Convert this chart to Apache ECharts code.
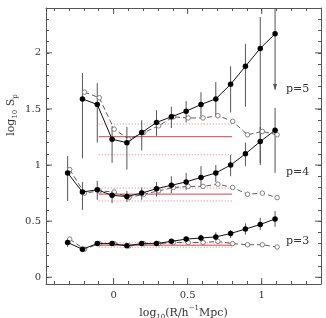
<!DOCTYPE html>
<html>
<head>
<meta charset="utf-8">
<script src="https://cdn.jsdelivr.net/npm/echarts@6/dist/echarts.min.js"></script>
<style>
  html, body { margin: 0; padding: 0; background: #fff; }
  #chart { width: 326px; height: 318px; }
</style>
</head>
<body>
<div id="chart"></div>
<script>
// log10(R / h^-1 Mpc)
const rVals = [-0.3, -0.2, -0.1, 0, 0.1, 0.2, 0.3, 0.4, 0.5, 0.6, 0.7, 0.8, 0.9, 1.0, 1.1]

// p = 5
const p5Filled = [null, 1.59, 1.54, 1.23, 1.20, 1.29, 1.38, 1.43, 1.48, 1.54, 1.59, 1.72, 1.88, 2.04, 2.17]
const p5Hi = [null, 1.82, 1.73, 1.35, 1.34, 1.40, 1.49, 1.52, 1.57, 1.65, 1.74, 1.88, 2.08, 2.32, 2.40]
const p5Lo = [null, 1.06, 1.20, 1.02, 0.96, 1.13, 1.26, 1.33, 1.38, 1.43, 1.44, 1.47, 1.52, 1.00, 1.67]
const p5Open = [null, 1.65, 1.60, 1.32, 1.23, 1.29, 1.35, 1.43, 1.42, 1.42, 1.44, 1.39, 1.27, 1.30, 1.27]

// p = 4
const p4Filled = [0.93, 0.76, 0.78, 0.73, 0.72, 0.75, 0.79, 0.82, 0.85, 0.89, 0.93, 1.00, 1.10, 1.21, 1.31]
const p4Hi = [1.08, 0.85, 0.86, 0.77, 0.77, 0.80, 0.85, 0.90, 0.93, 0.99, 1.00, 1.09, 1.20, 1.34, 1.51]
const p4Lo = [0.68, 0.60, 0.69, 0.66, 0.67, 0.69, 0.72, 0.75, 0.78, 0.81, 0.85, 0.90, 0.99, 1.02, 0.93]
const p4Open = [0.96, 0.75, 0.77, 0.76, 0.71, 0.74, 0.77, 0.80, 0.81, 0.81, 0.83, 0.80, 0.74, 0.75, 0.71]

// p = 3
const p3Filled = [0.31, 0.25, 0.30, 0.30, 0.28, 0.30, 0.30, 0.32, 0.34, 0.35, 0.36, 0.39, 0.43, 0.47, 0.52]
const p3Hi = [0.34, 0.27, 0.32, 0.31, 0.30, 0.31, 0.32, 0.34, 0.36, 0.38, 0.40, 0.42, 0.48, 0.53, 0.59]
const p3Lo = [0.27, 0.23, 0.28, 0.28, 0.27, 0.28, 0.29, 0.30, 0.31, 0.32, 0.33, 0.35, 0.38, 0.42, 0.45]
const p3Open = [0.34, 0.25, 0.30, 0.30, 0.28, 0.30, 0.30, 0.31, 0.31, 0.31, 0.32, 0.30, 0.29, 0.29, 0.27]

// errorbars ending in an arrow (lower limit unbounded)
const p5Arrow = [0, 0, 0, 0, 0, 0, 0, 0, 0, 0, 0, 0, 0, 0, 1]

// red reference bands (mean, upper, lower) over a fitted range
const bandRange = [-0.1, 0.8]
const bandMean = [1.253, 0.741, 0.286]
const bandHi = [1.366, 0.795, 0.307]
const bandLo = [1.092, 0.680, 0.268]

// axis ticks
const xMajor = [0, 0.5, 1]
const xAll = [-0.4, -0.3, -0.2, -0.1, 0, 0.1, 0.2, 0.3, 0.4, 0.5, 0.6, 0.7, 0.8, 0.9, 1, 1.1, 1.2, 1.3]
const yMajor = [0, 0.5, 1, 1.5, 2]
const yAll = [0, 0.1, 0.2, 0.3, 0.4, 0.5, 0.6, 0.7, 0.8, 0.9, 1, 1.1, 1.2, 1.3, 1.4, 1.5, 1.6, 1.7, 1.8, 1.9, 2, 2.1, 2.2, 2.3]

const labels = ['p=5', 'p=4', 'p=3']

const FONT = 'DejaVu Serif'
const frame = '#555'
const X_MIN = -0.456, X_MAX = 1.40, Y_MIN = -0.06, Y_MAX = 2.40

const chart = echarts.init(document.getElementById('chart'))

// 四边坐标轴：所有刻度用短刻度，主刻度另外用 custom 画长线
const makeAxis = (dir, pos, withLabel, extra) => Object.assign({
  type: 'value',
  position: pos,
  min: dir === 'x' ? X_MIN : Y_MIN,
  max: dir === 'x' ? X_MAX : Y_MAX,
  axisLine: { show: true, onZero: false, lineStyle: { color: frame, width: 1 } },
  axisTick: { show: true, inside: true, length: 3, customValues: dir === 'x' ? xAll : yAll, lineStyle: { color: frame, width: 1 } },
  axisLabel: withLabel
    ? { show: true, customValues: dir === 'x' ? xMajor : yMajor, fontFamily: FONT, fontSize: 10, color: '#333', margin: dir === 'x' ? 6 : 5 }
    : { show: false },
  splitLine: { show: false }
}, extra || {})

const xName = {
  name: '{t|log}{s|10}{t|(R/h}{u|−1}{t|Mpc)}',
  nameLocation: 'middle',
  nameGap: 18,
  nameTextStyle: {
    rich: {
      t: { fontFamily: FONT, fontSize: 11, color: '#333', lineHeight: 16 },
      s: { fontFamily: FONT, fontSize: 7, color: '#333', lineHeight: 8, verticalAlign: 'bottom' },
      u: { fontFamily: FONT, fontSize: 7, color: '#333', lineHeight: 8, verticalAlign: 'top' }
    }
  }
}

// long major ticks on all four sides
const majorTickSeries = (dir) => ({
  type: 'custom',
  clip: false,
  silent: true,
  z: 5,
  data: (dir === 'x' ? xMajor : yMajor).map(v => [v]),
  renderItem: (params, api) => {
    const v = api.value(0)
    const L = 6
    const st = { stroke: frame, lineWidth: 1 }
    if (dir === 'x') {
      const b = api.coord([v, Y_MIN]), t = api.coord([v, Y_MAX])
      return { type: 'group', children: [
        { type: 'line', shape: { x1: b[0], y1: b[1], x2: b[0], y2: b[1] - L }, style: st },
        { type: 'line', shape: { x1: t[0], y1: t[1], x2: t[0], y2: t[1] + L }, style: st }
      ] }
    }
    const l = api.coord([X_MIN, v]), r = api.coord([X_MAX, v])
    return { type: 'group', children: [
      { type: 'line', shape: { x1: l[0], y1: l[1], x2: l[0] + L, y2: l[1] }, style: st },
      { type: 'line', shape: { x1: r[0], y1: r[1], x2: r[0] - L, y2: r[1] }, style: st }
    ] }
  }
})

const errSeries = (lo, hi, arrow) => ({
  type: 'custom',
  clip: true,
  z: 2,
  data: rVals.map((r, i) => hi[i] == null ? null : [r - 0.01, lo[i], hi[i], arrow ? arrow[i] : 0]).filter(d => d),
  renderItem: (params, api) => {
    const x = api.value(0)
    const a = api.coord([x, api.value(1)])
    const b = api.coord([x, api.value(2)])
    const kids = [{
      type: 'line',
      shape: { x1: a[0], y1: a[1], x2: b[0], y2: b[1] },
      style: { stroke: '#555', lineWidth: 1 }
    }]
    if (api.value(3)) {
      kids.push({
        type: 'polygon',
        shape: { points: [[a[0] - 2, a[1] - 6], [a[0] + 2, a[1] - 6], [a[0], a[1]]] },
        style: { fill: '#555' }
      })
    }
    return { type: 'group', children: kids }
  }
})

const filledSeries = (vals) => ({
  type: 'line',
  z: 4,
  data: rVals.map((r, i) => [r - 0.01, vals[i]]).filter(d => d[1] != null),
  symbol: 'circle',
  symbolSize: 5.5,
  itemStyle: { color: '#000' },
  lineStyle: { color: '#111', width: 1 },
  animation: false
})

const openSeries = (vals) => ({
  type: 'line',
  z: 3,
  data: rVals.map((r, i) => [r + 0.004, vals[i]]).filter(d => d[1] != null),
  symbol: 'circle',
  symbolSize: 4.5,
  itemStyle: { color: '#fff', borderColor: '#666', borderWidth: 0.8 },
  lineStyle: { color: '#333', width: 0.8, type: [5, 3] },
  animation: false
})

const bandSeries = (v, dotted) => ({
  type: 'line',
  z: 1,
  data: [[bandRange[0], v], [bandRange[1], v]],
  symbol: 'none',
  lineStyle: dotted
    ? { color: '#e07a7a', width: 1, type: [1, 2] }
    : { color: '#d04545', width: 1 },
  animation: false
})

const series = []
bandMean.forEach((m, i) => {
  series.push(bandSeries(m, false), bandSeries(bandHi[i], true), bandSeries(bandLo[i], true))
})
series.push(
  errSeries(p5Lo, p5Hi, p5Arrow), errSeries(p4Lo, p4Hi), errSeries(p3Lo, p3Hi),
  openSeries(p5Open), openSeries(p4Open), openSeries(p3Open),
  filledSeries(p5Filled), filledSeries(p4Filled), filledSeries(p3Filled),
  majorTickSeries('x'), majorTickSeries('y')
)

const labelY = [89, 172, 241]

chart.setOption({
  backgroundColor: '#fff',
  animation: false,
  grid: { left: 46, right: 5, top: 8, bottom: 34, containLabel: false, outerBoundsMode: 'none' },
  xAxis: [
    makeAxis('x', 'bottom', true, xName),
    makeAxis('x', 'top', false)
  ],
  yAxis: [
    makeAxis('y', 'left', true),
    makeAxis('y', 'right', false)
  ],
  graphic: [
    {
      type: 'text',
      x: 11,
      y: 115,
      rotation: Math.PI / 2,
      style: {
        text: '{t|log}{s|10}{t| S}{s|p}',
        align: 'center',
        verticalAlign: 'middle',
        rich: {
          t: { fontFamily: FONT, fontSize: 11, fill: '#333', lineHeight: 16 },
          s: { fontFamily: FONT, fontSize: 7, fill: '#333', lineHeight: 8, verticalAlign: 'bottom' }
        }
      }
    }
  ].concat(labels.map((t, i) => ({
    type: 'text',
    x: 286,
    y: labelY[i],
    style: { text: t, fontFamily: FONT, fontSize: 11, fill: '#333', verticalAlign: 'middle' }
  }))),
  series: series
})
</script>
</body>
</html>
